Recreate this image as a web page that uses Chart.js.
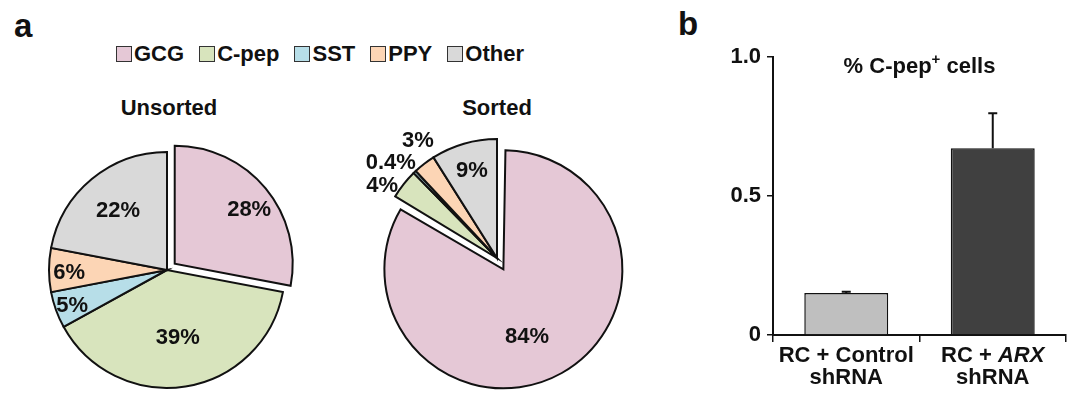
<!DOCTYPE html>
<html>
<head>
<meta charset="utf-8">
<script src="https://cdn.jsdelivr.net/npm/chart.js@4"></script>
<style>
  body { margin: 0; width: 1077px; height: 395px; overflow: hidden; background: #fff; position: relative;
         font-family: 'Liberation Sans', Arial, sans-serif; font-weight: bold; color: #111; }
  .panel { position: absolute; font-size: 33px; line-height: 1; }
  #legend { position: absolute; left: 116px; top: 44px; display: flex; gap: 15px; font-size: 22px; line-height: 19px; }
  #legend .item { display: flex; align-items: center; gap: 2px; }
  #legend .box { width: 14px; height: 14px; border: 1.5px solid #333; }
  .pieTitle { position: absolute; font-size: 22px; transform: translateX(-50%); white-space: nowrap; }
  canvas { position: absolute; }
</style>
</head>
<body>
<div class="panel" style="left:14px; top:9px;">a</div>
<div class="panel" style="left:678px; top:7px;">b</div>
<div id="legend"></div>
<div class="pieTitle" style="left:169px; top:95px;">Unsorted</div>
<div class="pieTitle" style="left:497px; top:95px;">Sorted</div>
<canvas id="unsorted" width="300" height="300" style="left:17px; top:120px;"></canvas>
<canvas id="sorted" width="300" height="300" style="left:347px; top:108px;"></canvas>
<canvas id="bars" width="417" height="395" style="left:660px; top:0px;"></canvas>
<script>
// pie data
const categories = ['GCG', 'C-pep', 'SST', 'PPY', 'Other'];
const sliceColors = ['#e5c8d6', '#d8e4bd', '#b7dee8', '#fcd5b5', '#d9d9d9'];
const unsortedValues = [28, 39, 5, 6, 22];
const unsortedLabels = ['28%', '39%', '5%', '6%', '22%'];
const sortedValues = [84, 4, 0.4, 3, 9];
const sortedLabels = ['84%', '4%', '0.4%', '3%', '9%'];

// bar data
const barLabelLines = [['RC + Control', 'shRNA'], ['RC + ARX', 'shRNA']];
const italicWords = ['ARX'];
const barValues = [0.151, 0.672];
const barErrors = [0.005, 0.126];
const barColors = ['#bfbfbf', '#404040'];
const yTicks = [0, 0.5, 1.0];

const FONT = "'Liberation Sans', Arial, sans-serif";

// legend
const legend = document.getElementById('legend');
categories.forEach((c, i) => {
    const item = document.createElement('div');
    item.className = 'item';
    item.innerHTML = `<span class="box" style="background:${sliceColors[i]}"></span><span>${c}</span>`;
    legend.appendChild(item);
});

// chart.js moves an offset arc by offset/4 and, for slices wider than a half
// circle, also grows its radius; undo the growth so the exploded slice keeps its size
const explodeFix = {
    id: 'explodeFix',
    beforeDatasetsDraw(chart) {
        chart.getDatasetMeta(0).data.forEach(arc => {
            if (arc.$baseR === undefined) arc.$baseR = arc.outerRadius;
            const off = (arc.options.offset || 0) / 4;
            const fix = 1 - Math.sin(Math.min(Math.PI, arc.endAngle - arc.startAngle));
            arc.outerRadius = arc.$baseR - off * fix;
        });
    }
};

// labels drawn at a fraction of the radius along each slice's mid angle
const sliceLabels = {
    id: 'sliceLabels',
    afterDatasetsDraw(chart, args, opts) {
        const ctx = chart.ctx;
        const arcs = chart.getDatasetMeta(0).data;
        ctx.save();
        ctx.font = `bold 22px ${FONT}`;
        ctx.fillStyle = '#111';
        ctx.textAlign = 'center';
        ctx.textBaseline = 'middle';
        arcs.forEach((arc, i) => {
            const mid = (arc.startAngle + arc.endAngle) / 2;
            const s = (arc.options.offset || 0) / 4;
            const cx = arc.x + Math.cos(mid) * s;
            const cy = arc.y + Math.sin(mid) * s;
            const a = mid + opts.shift[i] * Math.PI / 180;
            const r = arc.$baseR * opts.radius[i];
            ctx.fillText(opts.labels[i], cx + Math.cos(a) * r, cy + Math.sin(a) * r);
        });
        ctx.restore();
    }
};

function makePie(id, values, labels, radius, offset, labelRadius, labelShift) {
    return new Chart(document.getElementById(id), {
        type: 'pie',
        data: {
            labels: categories,
            datasets: [{
                data: values,
                backgroundColor: sliceColors,
                borderColor: '#111',
                borderWidth: 2,
                borderJoinStyle: 'miter',
                radius: radius,
                offset: [offset, 0, 0, 0, 0]
            }]
        },
        options: {
            responsive: false,
            animation: false,
            events: [],
            plugins: {
                legend: { display: false },
                tooltip: { enabled: false },
                sliceLabels: { labels: labels, radius: labelRadius, shift: labelShift }
            }
        },
        plugins: [explodeFix, sliceLabels]
    });
}

// offsets: ~10px shift for the unsorted slice, ~13px for the big sorted one
makePie('unsorted', unsortedValues, unsortedLabels, 118, 40,
    [0.78, 0.58, 0.86, 0.83, 0.65], [3.6, 0, -1, -2, 0]);
makePie('sorted', sortedValues, sortedLabels, 119, 52,
    [0.6, 1.14, 1.2, 1.19, 0.76], [10, -6.2, -4.3, 3.7, 0]);

// error bars, title and two-line category labels
const barExtras = {
    id: 'barExtras',
    afterDatasetsDraw(chart) {
        const ctx = chart.ctx;
        const x = chart.scales.x, y = chart.scales.y;
        ctx.save();
        ctx.strokeStyle = '#111';
        ctx.lineWidth = 2;
        barValues.forEach((v, i) => {
            const px = x.getPixelForValue(i);
            const top = y.getPixelForValue(v + barErrors[i]);
            ctx.beginPath();
            ctx.moveTo(px, y.getPixelForValue(v));
            ctx.lineTo(px, top);
            ctx.moveTo(px - 4.5, top);
            ctx.lineTo(px + 4.5, top);
            ctx.stroke();
        });
        ctx.restore();
    },
    afterDraw(chart) {
        const ctx = chart.ctx;
        const x = chart.scales.x;
        const area = chart.chartArea;
        ctx.save();
        ctx.fillStyle = '#111';
        ctx.textBaseline = 'middle';
        // title with superscript
        const big = `bold 22px ${FONT}`, small = `bold 15px ${FONT}`;
        const parts = [['% C-pep', big, 0], ['+', small, -7], [' cells', big, 0]];
        let w = 0;
        parts.forEach(p => { ctx.font = p[1]; w += ctx.measureText(p[0]).width; });
        let tx = (area.left + area.right) / 2 - w / 2;
        ctx.textAlign = 'left';
        parts.forEach(p => {
            ctx.font = p[1];
            ctx.fillText(p[0], tx, 67 + p[2]);
            tx += ctx.measureText(p[0]).width;
        });
        // category labels
        barLabelLines.forEach((lines, i) => {
            const cx = x.getPixelForValue(i);
            lines.forEach((line, j) => {
                const ly = area.bottom + 21 + j * 22;
                const words = line.split(/( )/);
                const fonts = words.map(wd => (italicWords.includes(wd) ? 'italic ' : '') + `bold 22px ${FONT}`);
                let lw = 0;
                words.forEach((wd, k) => { ctx.font = fonts[k]; lw += ctx.measureText(wd).width; });
                let lx = cx - lw / 2;
                words.forEach((wd, k) => {
                    ctx.font = fonts[k];
                    ctx.fillText(wd, lx, ly);
                    lx += ctx.measureText(wd).width;
                });
            });
        });
        ctx.restore();
    }
};

new Chart(document.getElementById('bars'), {
    type: 'bar',
    data: {
        labels: barLabelLines.map(l => l.join(' ')),
        datasets: [{
            data: barValues,
            backgroundColor: barColors,
            borderColor: '#111',
            borderWidth: 1.5,
            barPercentage: 0.573,
            categoryPercentage: 1
        }]
    },
    options: {
        responsive: false,
        animation: false,
        events: [],
        layout: { padding: { top: 57, right: 11, left: 0, bottom: 0 } },
        plugins: { legend: { display: false }, tooltip: { enabled: false } },
        scales: {
            x: {
                afterFit: s => { s.height = 60; },
                grid: { offset: true, drawOnChartArea: false, tickLength: 7, color: '#111', lineWidth: 1.5 },
                border: { color: '#111', width: 2 },
                ticks: { display: false }
            },
            y: {
                min: 0,
                max: 1,
                afterFit: s => { s.width = 113; },
                afterBuildTicks: s => { s.ticks = yTicks.map(v => ({ value: v })); },
                grid: { drawOnChartArea: false, tickLength: 6, color: '#111', lineWidth: 1.5 },
                border: { color: '#111', width: 2 },
                ticks: {
                    padding: 6,
                    color: '#111',
                    font: { family: FONT, size: 22, weight: 'bold' },
                    callback: v => v === 0 ? '0' : v.toFixed(1)
                }
            }
        }
    },
    plugins: [barExtras]
});
</script>
</body>
</html>
